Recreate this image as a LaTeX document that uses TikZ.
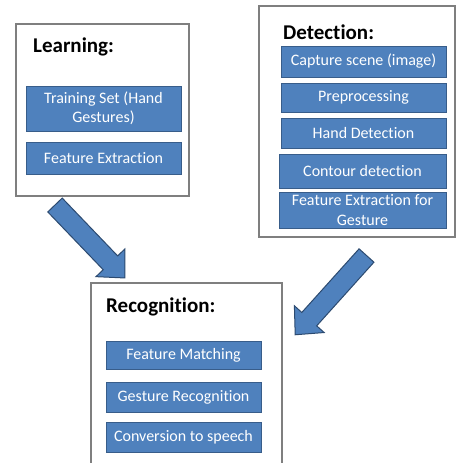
\documentclass[tikz,border=0pt]{standalone}
\usepackage{fontspec}
\setmainfont[Ligatures=NoCommon]{Carlito}
\usetikzlibrary{calc}
\definecolor{boxblue}{HTML}{4F81BD}
\definecolor{boxedge}{HTML}{385D8A}
\definecolor{arrowedge}{HTML}{2C4A70}
\definecolor{frame}{HTML}{7F7F7F}
\tikzset{
  panel/.style={draw=frame, line width=1.4pt, fill=white, inner sep=0pt},
  stepbox/.style={draw=boxedge, line width=0.9pt, fill=boxblue, text=white, inner sep=0pt,
     align=center, font=\fontsize{16}{19.5}\selectfont},
  title/.style={anchor=west, inner sep=0pt, font=\fontsize{21}{24}\selectfont\bfseries},
  bigarrow/.style={draw=arrowedge, line width=1pt, fill=boxblue, line join=miter}
}
\newcommand\fatarrow[2]{%
  \path let \p1=($(#2)-(#1)$), \n1={atan2(\y1,\x1)}, \n2={veclen(\x1,\y1)} in
   [bigarrow, shift={(#1)}, rotate=\n1]
   (0pt,-10pt) -- (\n2-21pt,-10pt) -- (\n2-21pt,-20pt) -- (\n2,0pt) --
   (\n2-21pt,20pt) -- (\n2-21pt,10pt) -- (0pt,10pt) -- cycle;}
\begin{document}
\begin{tikzpicture}[x=1pt,y=-1pt]
\clip (0,0) rectangle (456,463);
\fill[white] (0,0) rectangle (456,463);
% Learning
\node[panel, minimum width=173pt, minimum height=172pt] (learn) at (102.5,110) {};
\node[title] (learnt) at (33,47) {Learning:};
\node[stepbox, minimum width=155pt, minimum height=45pt] (train) at (103.5,108.5) {Training Set (Hand\\Gestures)};
\node[stepbox, minimum width=155pt, minimum height=32pt] (lfe) at (103.5,158) {Feature Extraction};
% Detection
\node[panel, minimum width=196pt, minimum height=231pt] (detect) at (357,121.5) {};
\node[title] (detectt) at (283,32) {Detection:};
\node[stepbox, minimum width=165pt, minimum height=31pt] (cap) at (363.5,61.5) {Capture scene (image)};
\node[stepbox, minimum width=165pt, minimum height=29pt] (pre) at (363.5,97.5) {Preprocessing};
\node[stepbox, minimum width=165pt, minimum height=30pt] (hand) at (363.5,133) {Hand Detection};
\node[stepbox, minimum width=167pt, minimum height=34pt] (cont) at (362.5,171) {Contour detection};
\node[stepbox, minimum width=167pt, minimum height=36pt] (dfe) at (362.5,210) {Feature Extraction for\\Gesture};
% Recognition
\node[panel, minimum width=191pt, minimum height=200pt] (recog) at (186.5,383) {};
\node[title] (recogt) at (106,307) {Recognition:};
\node[stepbox, minimum width=155pt, minimum height=28pt] (fm) at (183.5,355) {Feature Matching};
\node[stepbox, minimum width=155pt, minimum height=30pt] (gr) at (183.5,397) {Gesture Recognition};
\node[stepbox, minimum width=155pt, minimum height=30pt] (cs) at (183.5,437) {Conversion to speech};
% arrows
\coordinate (a1s) at (55,205);
\coordinate (a1e) at (125,278);
\coordinate (a2s) at (366.5,255.5);
\coordinate (a2e) at (295,335);
\fatarrow{a1s}{a1e}
\fatarrow{a2s}{a2e}
\end{tikzpicture}
\end{document}
